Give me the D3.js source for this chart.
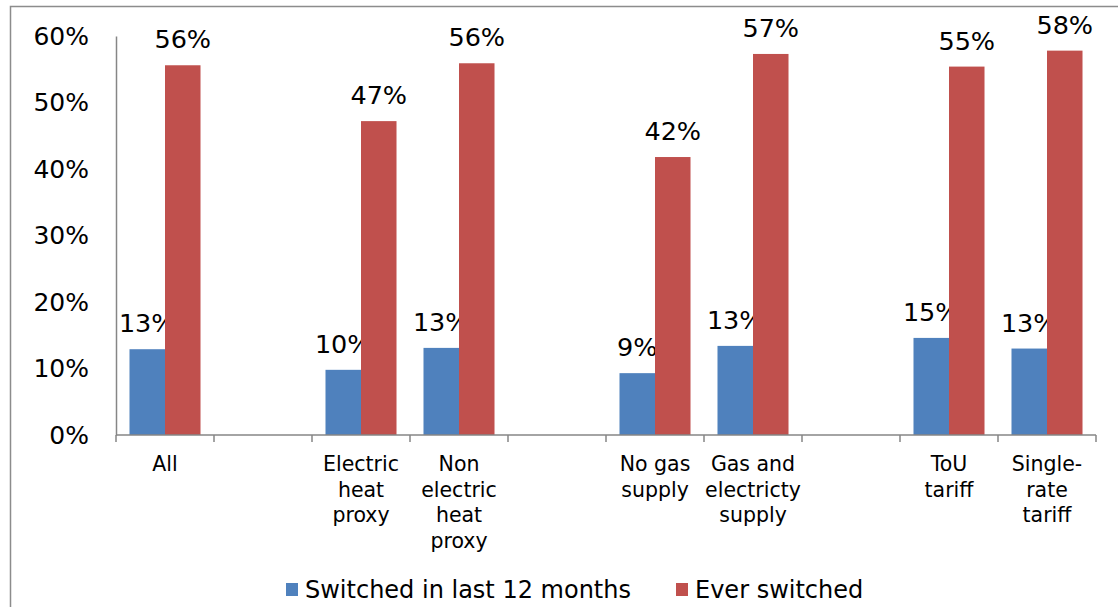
<!DOCTYPE html>
<html>
<head>
<meta charset="utf-8">
<script src="https://cdn.jsdelivr.net/npm/d3@7"></script>
<style>
  html, body { margin: 0; padding: 0; background: #fff; }
  svg { display: block; font-family: "DejaVu Sans", Verdana, sans-serif; }
</style>
</head>
<body>
<svg id="chart" width="1118" height="607"></svg>
<script>
// ---- data ----
const categories = [
  ["All"],
  [],
  ["Electric", "heat", "proxy"],
  ["Non", "electric", "heat", "proxy"],
  [],
  ["No gas", "supply"],
  ["Gas and", "electricty", "supply"],
  [],
  ["ToU", "tariff"],
  ["Single-", "rate", "tariff"]
];
const seriesNames = ["Switched in last 12 months", "Ever switched"];
const switched12 = [0.129, null, 0.098, 0.131, null, 0.093, 0.134, null, 0.146, 0.130];
const everSwitched = [0.556, null, 0.472, 0.559, null, 0.418, 0.573, null, 0.554, 0.578];
const yTicks = [0, 0.1, 0.2, 0.3, 0.4, 0.5, 0.6];
const colors = ["#4F81BD", "#C0504D"];

// ---- setup ----
const svg = d3.select("#chart");
const axisColor = "#868686";

// outer chart border
svg.append("rect")
  .attr("x", 10.5).attr("y", 6.5)
  .attr("width", 1130).attr("height", 620)
  .attr("fill", "none").attr("stroke", "#8c8c8c").attr("stroke-width", 1.5);

const plotLeft = 116, plotRight = 1096, plotTop = 36, plotBottom = 435;

const x0 = d3.scaleBand()
  .domain(d3.range(categories.length))
  .range([plotLeft, plotRight])
  .paddingInner(0).paddingOuter(0);

const x1 = d3.scaleBand()
  .domain([0, 1])
  .range([0, x0.bandwidth()])
  .paddingInner(0).paddingOuter(0.38);

const y = d3.scaleLinear().domain([0, 0.6]).range([plotBottom, plotTop]);
const pct = d3.format(".0%");

// y axis
const yAxis = svg.append("g")
  .attr("transform", `translate(${plotLeft},0)`)
  .call(d3.axisLeft(y).tickValues(yTicks).tickFormat(pct).tickSize(0).tickPadding(27));
yAxis.select(".domain").attr("stroke", axisColor).attr("stroke-width", 1.5);
yAxis.selectAll("text")
  .attr("font-family", "DejaVu Sans, Verdana, sans-serif")
  .attr("font-size", 25).attr("fill", "#000");

// bars
const seriesData = [switched12, everSwitched];
seriesData.forEach((vals, s) => {
  const g = svg.append("g");
  const pts = vals.map((v, i) => ({ v, i })).filter(d => d.v !== null);
  g.selectAll("rect").data(pts).join("rect")
    .attr("x", d => x0(d.i) + x1(s))
    .attr("y", d => y(d.v))
    .attr("width", x1.bandwidth())
    .attr("height", d => y(0) - y(d.v))
    .attr("fill", colors[s]);
  g.selectAll("text").data(pts).join("text")
    .attr("x", d => x0(d.i) + x1(s) + x1.bandwidth() / 2)
    .attr("y", d => y(d.v) - 17)
    .attr("text-anchor", "middle")
    .attr("font-size", 25.5)
    .attr("fill", "#000")
    .text(d => pct(d.v));
});

// x axis
const xg = svg.append("g");
xg.append("line")
  .attr("x1", plotLeft).attr("x2", plotRight)
  .attr("y1", y(0)).attr("y2", y(0))
  .attr("stroke", axisColor).attr("stroke-width", 1.5);
const boundaries = d3.range(categories.length + 1).map(i => plotLeft + i * x0.step());
xg.selectAll("line.tick").data(boundaries).join("line")
  .attr("class", "tick")
  .attr("x1", d => d).attr("x2", d => d)
  .attr("y1", y(0)).attr("y2", y(0) + 7)
  .attr("stroke", axisColor).attr("stroke-width", 1.5);

// category labels
categories.forEach((lines, i) => {
  const t = xg.append("text")
    .attr("text-anchor", "middle")
    .attr("font-size", 20.5)
    .attr("fill", "#000");
  lines.forEach((ln, k) => {
    t.append("tspan")
      .attr("x", x0(i) + x0.bandwidth() / 2)
      .attr("y", 471 + k * 25.7)
      .text(ln);
  });
});

// legend
const legendItems = [
  { name: seriesNames[0], color: colors[0], x: 286 },
  { name: seriesNames[1], color: colors[1], x: 676 }
];
const lg = svg.append("g");
legendItems.forEach(it => {
  lg.append("rect")
    .attr("x", it.x).attr("y", 583)
    .attr("width", 12).attr("height", 13)
    .attr("fill", it.color);
  lg.append("text")
    .attr("x", it.x + 19).attr("y", 598)
    .attr("font-size", 24)
    .attr("fill", "#000")
    .text(it.name);
});
</script>
</body>
</html>
